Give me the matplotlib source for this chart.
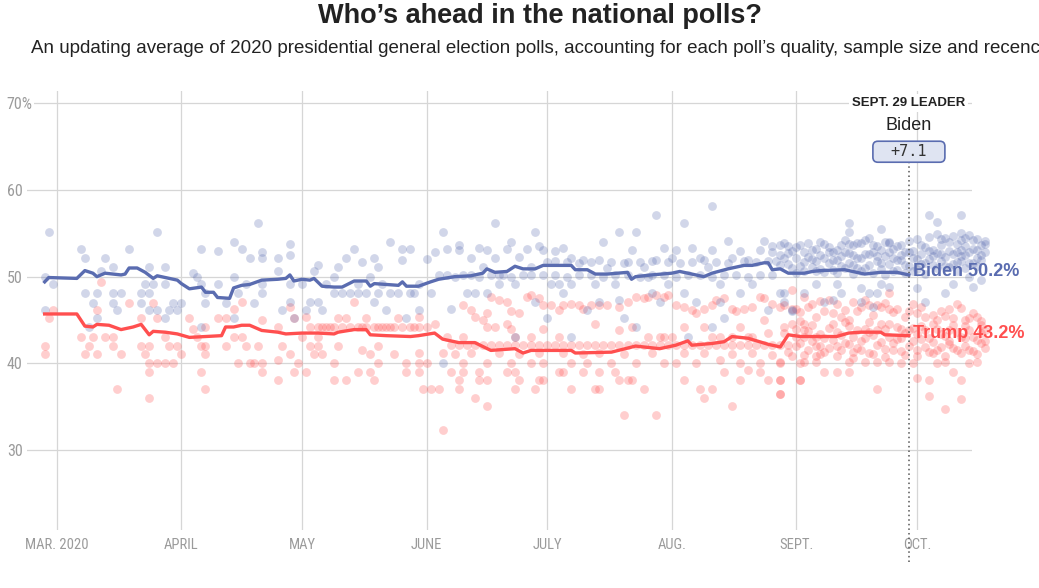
import matplotlib
matplotlib.use('Agg')
import numpy as np
import pandas as pd
import matplotlib.pyplot as plt
import matplotlib.dates as mdates
from matplotlib.patches import FancyBboxPatch

plt.rcParams['font.family'] = ['Liberation Sans', 'DejaVu Sans']
COND = ['Roboto Condensed', 'Roboto', 'DejaVu Sans']

# all days are counted from 1 March 2020
START = pd.Timestamp('2020-03-01')

BLUE = '#5a6cb0'
RED = '#ff4f4f'

month_labels = ['MAR. 2020', 'APRIL', 'MAY', 'JUNE', 'JULY', 'AUG.', 'SEPT.', 'OCT.']
ytick_vals = [30, 40, 50, 60, 70]
ytick_labels = ['30', '40', '50', '60', '70%']

# polling averages (day, pct)
biden_avg = [(-3, 49.4), (-2, 49.9), (5, 49.8), (7, 50.7), (9, 50.4), (10, 50.0), (12, 50.4), (16, 50.2),
             (17, 50.3), (18, 51.0), (20, 51.0), (22, 50.5), (24, 49.8), (25, 50.1), (27, 49.9), (30, 49.6),
             (31, 49.2), (33, 48.6), (36, 48.8), (37, 48.2), (39, 48.2), (40, 47.6), (43, 47.5), (44, 48.7),
             (46, 49.0), (48, 49.1), (51, 49.6), (55, 49.7), (57, 49.8), (58, 50.2), (59, 49.5), (61, 49.7),
             (63, 49.6), (64, 49.8), (66, 48.9), (69, 48.8), (71, 48.8), (74, 49.5), (77, 49.5), (78, 48.9),
             (79, 49.2), (85, 49.0), (86, 49.4), (87, 48.9), (90, 48.9), (93, 49.4), (95, 49.7), (99, 50.0),
             (103, 50.1), (106, 50.4), (107, 50.9), (109, 50.5), (112, 50.6), (114, 51.2), (116, 50.9),
             (119, 50.9), (121, 51.3), (128, 51.3), (129, 50.8), (132, 50.8), (134, 50.3), (137, 50.3),
             (142, 50.5), (143, 49.7), (144, 50.0), (148, 50.2), (153, 50.4), (155, 50.6), (158, 50.3),
             (161, 50.0), (163, 50.4), (167, 50.9), (171, 51.3), (173, 51.3), (176, 51.6), (177, 51.6),
             (178, 50.8), (180, 50.9), (182, 50.4), (186, 50.4), (188, 50.6), (190, 50.7), (196, 50.8),
             (201, 50.3), (205, 50.5), (209, 50.5), (212, 50.2)]

trump_avg = [(-3, 45.7), (5, 45.7), (7, 44.3), (9, 44.2), (10, 44.5), (13, 44.4), (16, 43.9), (17, 44.0),
             (19, 44.2), (21, 44.5), (23, 43.3), (24, 43.7), (27, 43.6), (30, 43.4), (33, 43.0), (37, 43.1),
             (41, 43.2), (42, 44.2), (44, 44.2), (46, 44.4), (48, 44.4), (51, 43.8), (55, 43.6), (57, 43.4),
             (61, 43.5), (65, 43.5), (69, 43.4), (70, 43.6), (74, 43.9), (77, 43.9), (78, 43.3), (82, 43.2),
             (88, 43.1), (90, 43.2), (94, 43.5), (96, 42.8), (100, 42.4), (104, 42.4), (108, 41.5),
             (111, 41.6), (114, 41.7), (116, 41.2), (118, 41.5), (128, 41.5), (129, 41.2), (138, 41.3),
             (144, 42.0), (150, 41.7), (154, 42.1), (157, 42.6), (158, 42.1), (163, 42.3), (166, 42.5),
             (168, 43.1), (172, 42.9), (177, 42.2), (180, 41.9), (182, 43.3), (185, 43.1), (188, 43.1),
             (194, 43.1), (197, 43.5), (200, 43.6), (205, 43.6), (206, 43.3), (212, 43.2)]

# individual polls (day, pct)
biden_polls = [
    (-3, 50.0), (-2, 55.1), (-1, 49.1), (-3, 46.2), (6, 53.2), (7, 52.1), (7, 48.1), (8, 44.2), (9, 47.0),
    (10, 48.1), (10, 45.2), (11, 50.7), (12, 52.1), (14, 51.1), (14, 48.1), (14, 47.0), (15, 46.2),
    (16, 48.1), (18, 53.2), (21, 48.1), (21, 47.0), (22, 49.1), (23, 51.1), (23, 48.1), (23, 46.2),
    (24, 49.1), (25, 55.1), (25, 46.2), (27, 51.1), (27, 49.1), (27, 45.2), (28, 46.2), (29, 47.0),
    (30, 46.2), (31, 47.0), (34, 50.4), (35, 50.0), (36, 53.2), (36, 49.1), (36, 44.2), (37, 48.1),
    (37, 47.0), (40, 53.0), (40, 49.1), (42, 47.0), (44, 54.0), (44, 50.0), (44, 45.2), (45, 48.1),
    (46, 53.2), (47, 49.1), (48, 52.1), (49, 47.0), (50, 56.2), (51, 52.8), (51, 52.1), (51, 48.1),
    (51, 49.1), (55, 52.2), (55, 50.6), (56, 46.2), (58, 53.8), (58, 52.5), (58, 49.1), (58, 47.1),
    (59, 45.2), (61, 49.1), (62, 46.2), (63, 47.1), (64, 50.7), (65, 51.3), (65, 47.1), (66, 46.2),
    (67, 49.1), (69, 48.1), (69, 50.0), (70, 51.1), (71, 48.1), (72, 52.1), (73, 48.1), (74, 53.2),
    (75, 49.1), (75, 48.1), (76, 51.7), (77, 48.1), (78, 50.0), (79, 52.1), (79, 47.1), (80, 51.1),
    (80, 48.1), (81, 49.1), (82, 46.2), (83, 54.0), (83, 48.1), (85, 48.1), (86, 53.2), (86, 51.9),
    (87, 45.2), (88, 53.2), (88, 48.1), (89, 48.1), (90, 49.1), (90, 46.2),
    (92, 52.0), (93, 48.1), (94, 52.9), (96, 55.1), (96, 40.1), (97, 53.2), (98, 46.3), (100, 53.7),
    (100, 53.1), (102, 48.1), (103, 52.1), (104, 48.1), (105, 53.3), (106, 51.1), (107, 53.1),
    (107, 48.1), (109, 56.2), (109, 52.1), (111, 50.2), (112, 53.2), (113, 54.0), (114, 49.1),
    (114, 43.1), (115, 52.3), (117, 53.2), (118, 51.1), (119, 55.1), (119, 47.1), (120, 53.5),
    (121, 53.1), (122, 45.2), (123, 49.1), (124, 53.0), (126, 48.1), (126, 53.3), (128, 52.1),
    (128, 49.1), (128, 43.1), (131, 51.9), (132, 46.2), (135, 47.1), (136, 54.0), (137, 51.0),
    (139, 49.1), (140, 55.1), (140, 47.3), (141, 45.2), (142, 51.7), (143, 53.1), (144, 55.1),
    (144, 44.2), (146, 51.1), (147, 50.0), (148, 48.1), (149, 57.1), (149, 51.9), (150, 47.1),
    (151, 53.3), (153, 52.1), (154, 53.1), (156, 56.2), (156, 48.1), (157, 43.1), (158, 53.3),
    (159, 47.1), (160, 52.1), (162, 51.1), (163, 58.2), (163, 53.1), (163, 44.2), (165, 47.1),
    (166, 45.2), (167, 54.1), (168, 52.1), (170, 48.1), (170, 53.0), (172, 51.9), (173, 49.1),
    (175, 53.1), (176, 54.1), (177, 46.2), (178, 53.5), (180, 52.5), (181, 48.1), (182, 53.5),
    (183, 46.2), (95, 50.2), (97, 50.2), (99, 50.0), (101, 50.2), (103, 50.2), (105, 50.0), (108, 50.2),
    (110, 50.2), (113, 50.0), (116, 50.2), (118, 50.2), (122, 51.7), (124, 51.8), (127, 51.7),
    (130, 51.6), (133, 51.7), (135, 51.9), (138, 51.7), (141, 51.6), (145, 51.7), (148, 51.8),
    (152, 51.7), (155, 51.6), (158, 51.7), (161, 51.9), (164, 51.7), (167, 51.6), (171, 51.8),
    (174, 51.7), (177, 51.8), (110, 49.1), (125, 49.1), (134, 49.1), (152, 49.1), (165, 49.1),
    (121, 50.2), (124, 50.2), (127, 50.0), (130, 50.2), (133, 50.2), (136, 50.0), (139, 50.2),
    (142, 50.2), (145, 50.0), (148, 50.2), (151, 50.2), (154, 50.0), (157, 50.2), (160, 50.2),
    (163, 50.0), (166, 50.2), (169, 50.2), (172, 50.0), (175, 50.2), (178, 50.2),
    (178, 52.9), (179, 51.8), (180, 53.7), (181, 52.2), (182, 51.5), (183, 53.0),
    (197, 56.2), (197, 55.1), (205, 55.5), (207, 54.0), (217, 57.1), (219, 56.3), (225, 57.1),
    (225, 55.0), (225, 53.1), (180, 48.1), (181, 47.1), (183, 46.0), (186, 48.1), (189, 49.1),
    (191, 47.1), (193, 47.3), (194, 49.1), (195, 48.1), (200, 47.1), (200, 48.7), (202, 48.1),
    (204, 48.1), (203, 46.5), (205, 49.2), (207, 48.8), (214, 48.7), (216, 47.1), (221, 48.1),
    (223, 49.1), (228, 48.8), (230, 49.6), (227, 50.0),
    (184, 52.1), (184, 53.4), (185, 51.2), (186, 52.8), (186, 50.6), (187, 53.9), (188, 52.0),
    (188, 51.1), (189, 53.2), (190, 52.5), (190, 50.9), (191, 53.8), (192, 51.6), (192, 52.9),
    (193, 50.8), (194, 53.1), (194, 51.9), (195, 52.4), (196, 54.2), (196, 51.0), (197, 52.7),
    (198, 53.6), (198, 51.4), (199, 52.2), (200, 53.9), (200, 50.7), (201, 52.6), (202, 51.3),
    (202, 54.4), (203, 52.9), (204, 51.8), (204, 53.5), (205, 50.9), (206, 52.4), (206, 54.0),
    (207, 51.5), (208, 53.2), (208, 52.1), (209, 50.8), (210, 53.7), (210, 51.9), (211, 52.8),
    (212, 54.1), (212, 51.2), (213, 53.0), (213, 52.2), (214, 50.9), (214, 54.3), (215, 52.6),
    (215, 51.5), (216, 53.4), (217, 52.0), (217, 54.6), (218, 51.3), (218, 53.1), (219, 52.7),
    (219, 54.9), (220, 51.8), (220, 53.6), (221, 52.3), (221, 54.4), (222, 51.1), (222, 53.0),
    (223, 52.6), (223, 54.7), (224, 51.7), (224, 53.8), (225, 52.4), (225, 54.2), (226, 51.0),
    (226, 53.5), (227, 52.8), (227, 54.8), (228, 51.6), (228, 53.2), (229, 52.2), (229, 54.3),
    (230, 53.6), (230, 51.9), (231, 52.9), (231, 54.1),
    (180, 51.4), (181, 53.9), (182, 52.7), (183, 51.0), (184, 50.4), (185, 53.6), (186, 51.7),
    (187, 52.3), (188, 53.1), (189, 50.6), (189, 51.8), (190, 54.0), (191, 52.2), (191, 50.5),
    (192, 53.4), (193, 51.9), (193, 52.8), (194, 50.4), (195, 53.7), (195, 51.2), (196, 52.9),
    (197, 51.6), (197, 53.8), (198, 50.3), (198, 52.5), (199, 53.9), (199, 51.0), (200, 52.1),
    (201, 54.2), (201, 51.0), (202, 52.6), (203, 50.4), (203, 53.7), (204, 52.4), (205, 51.6),
    (205, 53.1), (206, 50.2), (207, 52.9), (207, 53.9), (208, 50.7), (209, 51.9), (209, 53.5),
    (210, 52.5), (211, 50.4), (211, 51.4), (212, 52.9), (213, 50.6), (214, 52.0), (215, 53.7),
    (216, 51.6), (216, 50.3), (217, 53.0), (218, 52.4), (219, 51.0), (220, 54.3), (220, 52.6),
    (221, 51.2), (222, 54.0), (223, 51.5), (224, 52.9), (224, 50.6), (225, 51.8), (226, 54.5),
    (227, 51.6), (228, 54.2), (229, 53.1), (230, 52.5), (231, 53.8), (229, 51.2), (226, 52.5)]

trump_polls = [
    (-3, 42.0), (-3, 41.1), (-2, 45.2), (-1, 46.2), (6, 43.1), (7, 41.1), (8, 42.0), (9, 43.1), (10, 46.2),
    (10, 41.1), (11, 49.4), (12, 43.1), (14, 43.1), (14, 42.0), (15, 37.0), (16, 41.1), (18, 47.0),
    (21, 42.0), (21, 45.2), (22, 41.1), (23, 42.0), (23, 40.0), (23, 39.0), (23, 36.0), (24, 47.0),
    (25, 45.2), (25, 40.0), (27, 43.1), (27, 40.0), (28, 42.0), (29, 40.0), (30, 42.0), (31, 41.1),
    (33, 45.2), (34, 44.0), (35, 43.1), (36, 42.0), (36, 39.0), (37, 44.2), (37, 42.0), (37, 41.1),
    (37, 37.0), (40, 45.2), (42, 42.0), (42, 45.2), (44, 46.3), (44, 43.1), (45, 40.0), (46, 47.1),
    (46, 43.1), (47, 42.0), (48, 40.0), (49, 40.0), (50, 42.0), (51, 40.0), (51, 45.0), (51, 39.0),
    (55, 44.2), (55, 38.1), (55, 40.4), (56, 42.0), (58, 46.5), (58, 41.1), (59, 45.2), (59, 39.0),
    (60, 40.0), (61, 43.1), (62, 39.0), (62, 45.4), (63, 42.0), (64, 41.1), (65, 43.1), (65, 42.0),
    (66, 41.1), (67, 44.2), (69, 38.1), (69, 40.0), (70, 45.2), (70, 42.0), (71, 44.2), (72, 45.2),
    (72, 38.1), (74, 47.1), (75, 39.0), (76, 41.5), (77, 45.2), (78, 41.1), (78, 39.0), (79, 38.1),
    (80, 40.0), (80, 42.0), (81, 44.2), (82, 44.2), (84, 41.1), (85, 45.2), (87, 40.0), (87, 39.0),
    (88, 44.2), (90, 40.0), (90, 45.4), (63, 44.2), (65, 44.2), (66, 44.2), (68, 44.2), (69, 44.2),
    (73, 44.2), (75, 44.2), (76, 44.2), (77, 44.2), (79, 44.2), (80, 44.2), (83, 44.2), (84, 44.2),
    (86, 44.2), (89, 44.2),
    (98, 42.1), (100, 42.1), (102, 42.1), (104, 42.1), (106, 42.1), (108, 42.1), (110, 42.1), (112, 42.1),
    (114, 42.1), (116, 42.1), (118, 42.1), (120, 42.1), (122, 42.1), (124, 42.1), (126, 42.1),
    (128, 42.1), (130, 42.1), (132, 42.1), (134, 42.1), (136, 42.1), (138, 42.1), (140, 42.1),
    (142, 42.1), (144, 42.1), (146, 42.1), (148, 42.1), (150, 42.1), (152, 42.1), (154, 42.1),
    (156, 42.1), (158, 42.1), (160, 42.1), (162, 42.1), (164, 42.1), (166, 42.1), (168, 42.1),
    (170, 42.1), (172, 42.1), (174, 42.1), (176, 42.1), (178, 42.1), (180, 42.1), (182, 42.1),
    (101, 46.7), (103, 46.2), (104, 45.4), (106, 45.0), (107, 45.8), (108, 47.7), (110, 47.3),
    (112, 47.1), (113, 46.0), (115, 45.8), (117, 47.7), (118, 47.9), (120, 47.5), (121, 46.7),
    (123, 46.7), (125, 46.2), (126, 46.7), (128, 46.9), (130, 46.7), (131, 46.3), (133, 46.7),
    (135, 46.7), (137, 46.7), (140, 46.5), (142, 47.1), (144, 47.7), (146, 47.5), (147, 47.7),
    (149, 47.9), (151, 47.7), (152, 47.9), (154, 46.7), (156, 46.5), (158, 46.2), (159, 45.8),
    (161, 46.3), (163, 46.7), (164, 47.3), (166, 47.5), (168, 46.3), (169, 46.0), (171, 46.3),
    (173, 46.5), (175, 47.7), (176, 47.5), (178, 46.9), (180, 46.5), (181, 46.7), (183, 46.3),
    (185, 45.9),
    (90, 44.2), (92, 44.2), (94, 44.6), (97, 43.1), (101, 43.1), (107, 44.2), (109, 44.2), (112, 44.6),
    (113, 44.0), (114, 43.1), (118, 43.1), (121, 44.0), (125, 43.1), (134, 44.6), (140, 43.8),
    (143, 44.2), (147, 43.1), (150, 43.1), (151, 43.1), (153, 43.1), (156, 44.2), (161, 44.2),
    (163, 43.1), (165, 43.1), (168, 43.1), (170, 44.2), (172, 43.1), (173, 43.1), (176, 45.0),
    (177, 43.5), (181, 44.2), (184, 43.1), (186, 43.8), (189, 43.1),
    (90, 41.2), (92, 40.1), (96, 41.2), (99, 41.1), (101, 40.1), (103, 41.2), (107, 40.1), (110, 41.2),
    (113, 40.1), (115, 41.1), (118, 40.1), (120, 41.2), (121, 40.1), (126, 41.2), (128, 40.1),
    (131, 41.1), (132, 40.1), (135, 41.2), (138, 40.1), (141, 41.1), (144, 40.1), (148, 41.2),
    (151, 40.1), (154, 40.1), (156, 41.2), (159, 40.1), (161, 41.2), (165, 40.4), (168, 41.1),
    (170, 40.1), (173, 41.2), (175, 40.1), (178, 41.0), (180, 40.1), (183, 40.8), (186, 40.2),
    (189, 40.8),
    (90, 39.0), (91, 37.0), (93, 37.0), (95, 37.0), (96, 32.3), (98, 39.0), (100, 38.1), (100, 37.0),
    (101, 39.0), (104, 36.0), (105, 39.0), (105, 38.1), (107, 35.1), (107, 38.1), (112, 39.0),
    (114, 39.0), (114, 37.0), (115, 38.1), (119, 37.0), (120, 38.1), (121, 38.1), (125, 39.0),
    (126, 39.0), (128, 37.0), (131, 39.0), (134, 37.0), (135, 37.0), (135, 39.0), (139, 39.0),
    (140, 38.1), (141, 34.0), (142, 38.1), (143, 38.1), (146, 37.0), (149, 34.0), (156, 38.1),
    (160, 37.0), (161, 36.0), (163, 37.0), (166, 39.0), (168, 35.1), (170, 38.1), (172, 39.2),
    (175, 39.0), (177, 38.1), (180, 38.1), (180, 36.5), (185, 38.1),
    (184, 46.3), (187, 46.5), (191, 46.0), (193, 45.8), (195, 45.4), (197, 45.0), (199, 46.0),
    (200, 46.5), (202, 46.7), (204, 46.7), (205, 46.5), (207, 46.3), (209, 46.3), (212, 46.0),
    (214, 45.8), (216, 45.4), (219, 45.0), (220, 46.0), (222, 46.3), (223, 45.2), (226, 45.0),
    (227, 45.2), (183, 48.5), (186, 47.7), (192, 47.3), (198, 47.1), (207, 48.1),
    (184, 44.0), (185, 42.3), (186, 43.1), (187, 41.6), (188, 44.4), (189, 42.0), (190, 43.4),
    (191, 41.3), (192, 44.1), (193, 42.7), (194, 43.6), (195, 41.5), (196, 42.4), (197, 44.3),
    (198, 43.0), (199, 41.8), (200, 42.6), (201, 44.0), (202, 41.2), (203, 43.3), (204, 42.1),
    (205, 44.5), (206, 41.7), (207, 43.0), (208, 42.3), (209, 44.2), (210, 41.4), (211, 43.5),
    (212, 42.0), (213, 44.1), (214, 41.6), (215, 42.8), (216, 43.9), (217, 41.3), (218, 42.5),
    (219, 44.0), (220, 41.9), (221, 43.2), (222, 42.2), (223, 44.4), (224, 41.5), (225, 43.0),
    (226, 42.0), (227, 43.8), (228, 41.4), (229, 42.7), (230, 43.5), (231, 41.8), (186, 44.6),
    (190, 42.0), (194, 42.0), (198, 41.3), (202, 43.6), (206, 44.0), (210, 42.9), (214, 43.4),
    (218, 41.2), (222, 43.8), (226, 44.3), (230, 42.3),
    (181, 43.5), (182, 41.3), (183, 44.6), (184, 42.0), (185, 44.9), (186, 41.0), (187, 43.7),
    (188, 42.6), (189, 45.3), (190, 41.1), (191, 42.9), (192, 41.8), (193, 44.5), (194, 40.8),
    (195, 43.3), (196, 44.8), (197, 42.2), (198, 40.6), (199, 43.8), (200, 41.5), (201, 42.9),
    (202, 44.8), (203, 41.1), (204, 43.9), (205, 42.5), (206, 40.7), (207, 44.6), (208, 41.6),
    (209, 42.8), (210, 44.0), (211, 41.0), (212, 43.9), (213, 42.6), (214, 40.8), (215, 44.3),
    (216, 41.9), (217, 42.9), (218, 44.5), (219, 41.6), (220, 43.4), (221, 40.9), (222, 42.6),
    (223, 41.8), (224, 43.6), (225, 41.2), (226, 42.9), (227, 41.6), (228, 43.1), (229, 41.1),
    (230, 44.4), (231, 42.6), (231, 43.9), (188, 46.8), (190, 47.2), (194, 46.9), (196, 46.2),
    (201, 47.3), (203, 45.6), (206, 47.0), (208, 45.9), (211, 45.3), (213, 46.8), (215, 46.5),
    (218, 45.6), (221, 45.5), (224, 46.8), (225, 46.4), (228, 45.8), (229, 45.3), (230, 44.9),
    (180, 40.2), (185, 40.0), (189, 40.2), (191, 39.0), (194, 39.0), (197, 39.0), (197, 40.2),
    (201, 40.2), (204, 40.2), (207, 40.2), (210, 40.1), (213, 40.1), (214, 38.3), (217, 38.1),
    (219, 40.0), (221, 40.2), (223, 39.0), (225, 38.1), (227, 40.0), (229, 40.2),
    (180, 38.1), (180, 36.5), (185, 38.1), (204, 37.0), (217, 36.2), (221, 34.8), (225, 35.9)]


def to_dates(days):
    return START + pd.to_timedelta(np.asarray(days, dtype=float), unit='D')


fig = plt.figure(figsize=(10.39, 5.88), dpi=100)
ax = fig.add_axes([27 / 1039, 1 - 530 / 588, 945 / 1039, 439 / 588])

bp = np.array(biden_polls)
tp = np.array(trump_polls)
ax.scatter(to_dates(tp[:, 0]), tp[:, 1], s=40, color=RED, alpha=0.28, lw=0, zorder=2, clip_on=False)
ax.scatter(to_dates(bp[:, 0]), bp[:, 1], s=40, color=BLUE, alpha=0.28, lw=0, zorder=2, clip_on=False)

ba = np.array(biden_avg)
ta = np.array(trump_avg)
ax.plot(to_dates(ba[:, 0]), ba[:, 1], color=BLUE, lw=2.4, zorder=4, solid_joinstyle='round')
ax.plot(to_dates(ta[:, 0]), ta[:, 1], color=RED, lw=2.4, zorder=4, solid_joinstyle='round')

# axes limits (Feb 22 .. Oct 15)
ax.set_xlim(mdates.date2num(to_dates([-7.4])[0]), mdates.date2num(to_dates([227.7])[0]))
ax.set_ylim(20.8, 71.4)

months = pd.date_range('2020-03-01', '2020-10-01', freq='MS')
ax.set_xticks(months)
ax.set_xticklabels(month_labels)
ax.set_yticks(ytick_vals)
ax.set_yticklabels(ytick_labels)
ax.grid(True, color='#d6d6d6', lw=0.9, zorder=0)
ax.set_axisbelow(True)
for s in ax.spines.values():
    s.set_visible(False)
ax.tick_params(axis='x', length=0, pad=6, labelsize=10.5, labelcolor='#9b9b9b')
ax.tick_params(axis='y', length=0, pad=14.5, labelsize=11.5, labelcolor='#9b9b9b')
for lbl in ax.get_xticklabels():
    lbl.set_fontfamily(COND)
for lbl in ax.get_yticklabels():
    lbl.set_fontfamily(COND)
    lbl.set_horizontalalignment('left')
ax.get_yticklabels()[-1].set_bbox(dict(fc='white', ec='none', pad=1))

# end labels
lead_day = 212
ax.text(to_dates([213])[0], 50.6, 'Biden 50.2%', color=BLUE, fontsize=13, fontweight='bold',
        va='center', ha='left', zorder=5, clip_on=False)
ax.text(to_dates([213])[0], 43.4, 'Trump 43.2%', color=RED, fontsize=13, fontweight='bold',
        va='center', ha='left', zorder=5, clip_on=False)

# Sept. 29 leader annotation
x_lead = mdates.date2num(to_dates([lead_day])[0])
ax.plot([x_lead, x_lead], [17.1, 63.2], color='#555555', lw=1.1, ls=(0, (1, 2)), zorder=3, clip_on=False)
ax.text(x_lead, 70, 'SEPT. 29 LEADER', fontsize=9.5, fontweight='bold', color='#222222',
        ha='center', va='center', zorder=5, bbox=dict(fc='white', ec='none', pad=2))
ax.text(x_lead, 67.4, 'Biden', fontsize=13, color='#222222', ha='center', va='center', zorder=5)

p0 = ax.transData.transform((0, 0))
px_day = ax.transData.transform((1, 0))[0] - p0[0]
px_unit = ax.transData.transform((0, 1))[1] - p0[1]
box_w = 72 / px_day
box_h = 21 / px_unit
box = FancyBboxPatch((x_lead - box_w / 2, 64.4 - box_h / 2), box_w, box_h,
                     boxstyle='round,pad=0,rounding_size=%f' % (5 / px_day),
                     mutation_aspect=px_day / px_unit,
                     fc='#dfe4f2', ec=BLUE, lw=1.2, zorder=5)
ax.add_patch(box)
ax.text(x_lead, 64.4, '+7.1', fontsize=11, family='DejaVu Sans Mono', color='#333333',
        ha='center', va='center', zorder=6)

fig.text(540 / 1039, 1 - 23.3 / 588, 'Who\u2019s ahead in the national polls?', fontsize=19.5,
         fontweight='bold', color='#222222', ha='center', va='baseline')
# the subtitle runs off the right edge, as in the source graphic
fig.text(31 / 1039, 1 - 53.3 / 588,
         'An updating average of 2020 presidential general election polls, accounting for each '
         'poll\u2019s quality, sample size and recency',
         fontsize=13.5, color='#222222', ha='left', va='baseline')

fig.savefig('out.png', dpi=100)
